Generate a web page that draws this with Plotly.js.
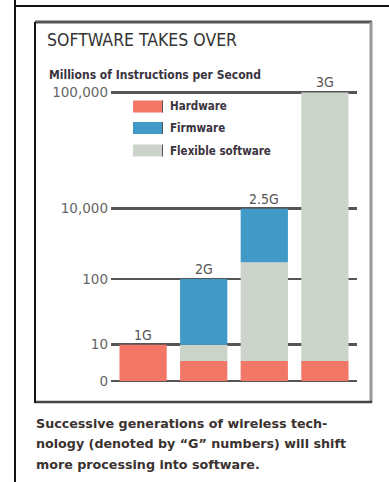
<!DOCTYPE html>
<html>
<head>
<meta charset="utf-8">
<script src="https://cdn.plot.ly/plotly-3.0.1.min.js"></script>
<style>html,body{margin:0;padding:0;background:#fff;}#chart{width:389px;height:482px;}</style>
</head>
<body>
<div id="chart"></div>
<script>
// ---- data ----
const categories = ['1G', '2G', '2.5G', '3G'];
const seriesNames = ['Hardware', 'Firmware', 'Flexible software'];
const hardware = [10, 5.5, 5.5, 5.5];          // MIPS segment, bottom of stack
const flexible = [0, 4.5, 294.5, 99994.5];     // MIPS segment, middle of stack
const firmware = [0, 90, 9700, 0];             // MIPS segment, top of stack
const tickValues = [0, 10, 100, 10000, 100000];
const tickLabels = ['0', '10', '100', '10,000', '100,000'];
const captionLines = [
  'Successive generations of wireless tech-',
  'nology (denoted by \u201CG\u201D numbers) will shift',
  'more processing into software.'
];
const titleText = 'SOFTWARE TAKES OVER';
const unitText = 'Millions of Instructions per Second';

// ---- style / layout ----
const colors = {Hardware: '#F27767', Firmware: '#4199C7', 'Flexible software': '#CCD3CB'};
const axisStops = [0, 36.3, 102, 172.3, 288.6]; // printed (irregular) scale positions of tickValues
const W = 389, H = 482;
const M = {l: 111, r: 32, t: 89, b: 98};
const PW = W - M.l - M.r, PH = H - M.t - M.b;
const X = px => (px - M.l) / PW;
const Y = py => (H - M.b - py) / PH;
const narrow = '"DejaVu Sans Condensed", "Liberation Sans Narrow", sans-serif';
const wide = '"DejaVu Sans", "Liberation Sans", sans-serif';

// map a MIPS value onto the chart's broken scale
function pos(v) {
  for (let i = 1; i < tickValues.length; i++) {
    const a = tickValues[i - 1], b = tickValues[i];
    if (v <= b) {
      const f = a === 0 ? (v - a) / (b - a) : (Math.log10(v) - Math.log10(a)) / (Math.log10(b) - Math.log10(a));
      return axisStops[i - 1] + f * (axisStops[i] - axisStops[i - 1]);
    }
  }
  return axisStops[axisStops.length - 1];
}

const stack = [['Hardware', hardware], ['Flexible software', flexible], ['Firmware', firmware]];
const cum = categories.map(() => 0);
const traces = [];
stack.forEach(([name, vals]) => {
  const base = [], hgt = [];
  vals.forEach((v, i) => {
    const b0 = pos(cum[i]);
    cum[i] += v;
    const t0 = pos(cum[i]);
    base.push(b0);
    hgt.push(t0 - b0);
  });
  traces.push({
    type: 'bar', name: name, x: categories, y: hgt, base: base,
    marker: {color: colors[name], line: {width: 0}},
    showlegend: false, hoverinfo: 'skip'
  });
});

const annotations = [];
categories.forEach((c, i) => {
  annotations.push({x: c, y: pos(cum[i]), xref: 'x', yref: 'y', text: c, showarrow: false,
    yanchor: 'bottom', yshift: 0, font: {family: narrow, size: 14, color: '#555'}});
});
annotations.push({x: X(47), y: Y(75), xref: 'paper', yref: 'paper', xanchor: 'left', yanchor: 'middle',
  text: '<b>' + unitText + '</b>', showarrow: false, font: {family: narrow, size: 12, color: '#3a3340'}});
captionLines.forEach((t, k) => {
  annotations.push({x: X(34), y: Y(423 + k * 21), xref: 'paper', yref: 'paper', xanchor: 'left', yanchor: 'middle',
    text: '<b>' + t + '</b>', showarrow: false, font: {family: wide, size: 12.7, color: '#3b3230'}});
});

const shapes = [
  // outer page frame
  {type: 'line', xref: 'paper', yref: 'paper', x0: X(15), x1: X(15), y0: Y(0), y1: Y(482), line: {color: '#111', width: 2}},
  {type: 'line', xref: 'paper', yref: 'paper', x0: X(15), x1: X(389), y0: Y(6), y1: Y(6), line: {color: '#111', width: 2}},
  // inner box
  {type: 'line', xref: 'paper', yref: 'paper', x0: X(35), x1: X(372), y0: Y(22), y1: Y(22), line: {color: '#555', width: 3}},
  {type: 'line', xref: 'paper', yref: 'paper', x0: X(371), x1: X(371), y0: Y(22), y1: Y(403), line: {color: '#999', width: 3}},
  {type: 'line', xref: 'paper', yref: 'paper', x0: X(35), x1: X(372), y0: Y(402), y1: Y(402), line: {color: '#444', width: 2.5}},
  {type: 'line', xref: 'paper', yref: 'paper', x0: X(35), x1: X(35), y0: Y(22), y1: Y(403), line: {color: '#111', width: 2}}
];
// legend
const legendRows = [106.5, 128, 150.5];
seriesNames.forEach((n, k) => {
  const cy = legendRows[k];
  shapes.push({type: 'rect', xref: 'paper', yref: 'paper', x0: X(133), x1: X(163), y0: Y(cy - 6), y1: Y(cy + 6),
    fillcolor: colors[n], line: {width: 0}});
  shapes.push({type: 'line', xref: 'paper', yref: 'paper', x0: X(162.5), x1: X(162.5), y0: Y(cy - 6), y1: Y(cy + 6),
    line: {color: '#555', width: 1}});
  annotations.push({x: X(168), y: Y(cy), xref: 'paper', yref: 'paper', xanchor: 'left', yanchor: 'middle',
    text: '<b>' + n + '</b>', showarrow: false, font: {family: narrow, size: 11.5, color: '#3a3340'}});
});

const layout = {
  width: W, height: H,
  margin: M,
  paper_bgcolor: '#fff', plot_bgcolor: 'rgba(0,0,0,0)',
  title: {text: titleText, xref: 'container', yref: 'container', x: 47 / W, xanchor: 'left',
    y: 1 - 40 / H, yanchor: 'middle', font: {family: narrow, size: 17.5, color: '#333'}},
  showlegend: false,
  barmode: 'overlay', bargap: 0.22,
  xaxis: {type: 'category', range: [-0.53, 3.53], showticklabels: false, showgrid: false, zeroline: false,
    showline: false, ticks: '', fixedrange: true},
  yaxis: {range: [-3, 292], tickmode: 'array', tickvals: axisStops, ticktext: tickLabels, showgrid: true,
    gridcolor: '#555', gridwidth: 2.5, zeroline: false, showline: false, ticks: '', ticklabelstandoff: 2,
    tickfont: {family: wide, size: 13.5, color: '#666'}, fixedrange: true},
  shapes: shapes,
  annotations: annotations
};

Plotly.newPlot('chart', traces, layout, {displayModeBar: false, staticPlot: true});
</script>
</body>
</html>
